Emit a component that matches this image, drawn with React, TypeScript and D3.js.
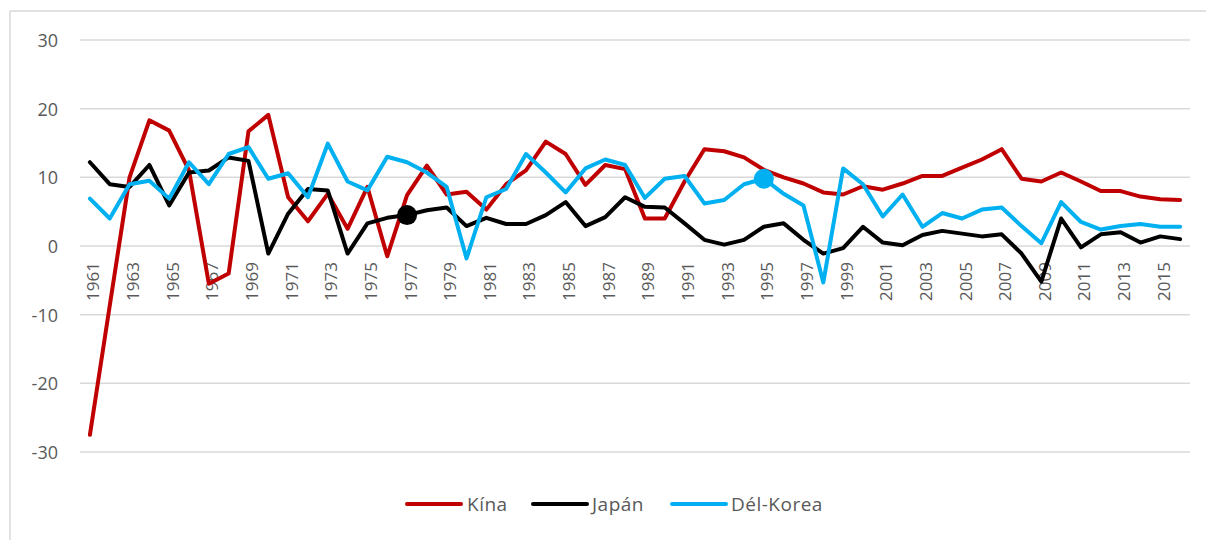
import React from "react";
import * as d3 from "d3";

const years = [
  1961, 1962, 1963, 1964, 1965, 1966, 1967, 1968, 1969, 1970,
  1971, 1972, 1973, 1974, 1975, 1976, 1977, 1978, 1979, 1980,
  1981, 1982, 1983, 1984, 1985, 1986, 1987, 1988, 1989, 1990,
  1991, 1992, 1993, 1994, 1995, 1996, 1997, 1998, 1999, 2000,
  2001, 2002, 2003, 2004, 2005, 2006, 2007, 2008, 2009, 2010,
  2011, 2012, 2013, 2014, 2015, 2016,
];

const kina = [
  -27.5, -8.7, 10.0, 18.3, 16.8, 11.0, -5.5, -4.0, 16.7, 19.1,
  7.1, 3.6, 7.6, 2.5, 8.6, -1.5, 7.4, 11.7, 7.5, 7.9,
  5.3, 9.0, 11.0, 15.2, 13.4, 8.9, 11.8, 11.2, 4.0, 4.0,
  9.4, 14.1, 13.8, 12.9, 11.1, 10.0, 9.1, 7.8, 7.5, 8.7,
  8.2, 9.1, 10.2, 10.2, 11.4, 12.6, 14.1, 9.8, 9.4, 10.7,
  9.4, 8.0, 8.0, 7.2, 6.8, 6.7,
];

const japan = [
  12.2, 9.0, 8.6, 11.8, 5.9, 10.7, 11.0, 12.9, 12.4, -1.1,
  4.7, 8.3, 8.1, -1.1, 3.3, 4.1, 4.5, 5.2, 5.6, 2.9,
  4.1, 3.2, 3.2, 4.5, 6.4, 2.9, 4.2, 7.1, 5.7, 5.6,
  3.3, 0.9, 0.2, 0.9, 2.8, 3.3, 0.9, -1.1, -0.3, 2.8,
  0.5, 0.1, 1.6, 2.2, 1.8, 1.4, 1.7, -1.1, -5.2, 4.0,
  -0.2, 1.7, 2.0, 0.5, 1.4, 1.0,
];

const delKorea = [
  6.9, 4.0, 9.0, 9.5, 6.9, 12.2, 9.0, 13.4, 14.4, 9.8,
  10.6, 7.1, 14.9, 9.4, 8.1, 13.0, 12.2, 10.7, 8.6, -1.8,
  7.1, 8.3, 13.4, 10.7, 7.8, 11.3, 12.6, 11.8, 7.0, 9.8,
  10.2, 6.2, 6.7, 9.0, 9.8, 7.6, 5.9, -5.3, 11.3, 9.0,
  4.3, 7.5, 2.8, 4.8, 4.0, 5.3, 5.6, 2.9, 0.4, 6.4,
  3.5, 2.4, 2.9, 3.2, 2.8, 2.8,
];

const yTicks = [-30, -20, -10, 0, 10, 20, 30];
const xTickLabels = years.filter((_, i) => i % 2 === 0);

const seriesNames = ["Kína", "Japán", "Dél-Korea"];
const seriesColors = ["#c00000", "#000000", "#00b0f0"];
const seriesValues = [kina, japan, delKorea];

// highlighted points: [series index, year]
const highlights: [number, number][] = [
  [1, 1977],
  [2, 1995],
];

const W = 1206;
const H = 540;
const FONT = "'Open Sans', 'Noto Sans', sans-serif";

export default function App() {
  const x = d3
    .scaleBand<number>()
    .domain(years)
    .range([80, 1190])
    .paddingInner(0)
    .paddingOuter(0);
  const cx = (yr: number) => (x(yr) as number) + x.bandwidth() / 2;
  const y = d3.scaleLinear().domain([-30, 30]).range([452, 40]);

  const line = d3
    .line<number>()
    .x((_, i) => cx(years[i]))
    .y((d) => y(d));

  const legendItems = [
    { lx: 407, tx: 467 },
    { lx: 533, tx: 592 },
    { lx: 672, tx: 731 },
  ];

  return (
    <div style={{ position: "absolute", left: 0, top: 0 }}>
      <svg width={W} height={H} style={{ display: "block", background: "#fff" }}>
        <rect x={0} y={0} width={W} height={H} fill="#fff" />
        {/* frame */}
        <line x1={10} x2={W} y1={11} y2={11} stroke="#d9d9d9" strokeWidth={1.5} />
        <line x1={10} x2={10} y1={11} y2={H} stroke="#d9d9d9" strokeWidth={1.5} />

        {/* gridlines */}
        {yTicks.map((t) => (
          <line
            key={t}
            x1={80}
            x2={1190}
            y1={y(t)}
            y2={y(t)}
            stroke="#d9d9d9"
            strokeWidth={1.5}
          />
        ))}

        {/* y labels */}
        {yTicks.map((t) => (
          <text
            key={"yl" + t}
            x={58}
            y={y(t)}
            dominantBaseline="central"
            textAnchor="end"
            fontFamily={FONT}
            fontSize={18}
            fill="#595959"
          >
            {t}
          </text>
        ))}

        {/* x labels */}
        {xTickLabels.map((yr) => (
          <text
            key={"xl" + yr}
            transform={`translate(${cx(yr) + 3},${y(0) + 16}) rotate(-90)`}
            textAnchor="end"
            dominantBaseline="central"
            fontFamily={FONT}
            fontSize={17}
            fill="#595959"
          >
            {yr}
          </text>
        ))}

        {/* series */}
        {seriesValues.map((vals, si) => (
          <path
            key={seriesNames[si]}
            d={line(vals) || ""}
            fill="none"
            stroke={seriesColors[si]}
            strokeWidth={4}
            strokeLinejoin="round"
            strokeLinecap="round"
          />
        ))}

        {/* highlighted markers */}
        {highlights.map(([si, yr]) => (
          <circle
            key={"h" + si + yr}
            cx={cx(yr)}
            cy={y(seriesValues[si][years.indexOf(yr)])}
            r={10}
            fill={seriesColors[si]}
          />
        ))}

        {/* legend */}
        {seriesNames.map((name, i) => (
          <g key={"lg" + name}>
            <line
              x1={legendItems[i].lx}
              x2={legendItems[i].lx + 54}
              y1={504}
              y2={504}
              stroke={seriesColors[i]}
              strokeWidth={4}
              strokeLinecap="round"
            />
            <text
              x={legendItems[i].tx}
              y={504}
              dominantBaseline="central"
              fontFamily={FONT}
              fontSize={19}
              fill="#595959"
              letterSpacing={0.5}
            >
              {name}
            </text>
          </g>
        ))}
      </svg>
    </div>
  );
}
